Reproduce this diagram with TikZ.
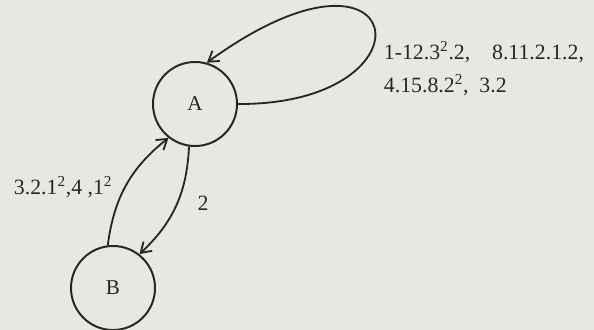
\documentclass[tikz,border=0pt]{standalone}
\usepackage{fontspec}
\setmainfont{Liberation Serif}
\usetikzlibrary{arrows.meta}
\definecolor{paper}{RGB}{233,231,227}
\definecolor{ink}{RGB}{40,38,36}

\begin{document}
\begin{tikzpicture}
[x=0.025cm,y=-0.025cm,line width=1.3pt,draw=ink,
 every node/.style={text=ink},
 state/.style={circle,draw=ink,line width=1.4pt,minimum size=2.1cm,inner sep=0pt,font=\fontsize{15}{18}\selectfont},
 lbl/.style={font=\fontsize{15.5}{19}\selectfont,inner sep=0pt},
 arr/.style={-{Straight Barb[length=7pt,width=9pt]},ink}]
\fill[paper] (0,0) rectangle (594,330);
\useasboundingbox (0,0) rectangle (594,330);
\node[state] (A) at (195,104) {A};
\node[state] (B) at (113,288) {B};
\draw[arr] (A.east) .. controls (440,105) and (410,-85) .. (A.74);
\draw[arr] (B.97) to[bend left=22] (A.232);
\draw[arr] (A.262) to[bend left=22] (B.52);
\node[lbl,anchor=west] (l1) at (383,52) {1-12.3\textsuperscript{2}.2,\quad 8.11.2.1.2,};
\node[lbl,anchor=west] (l2) at (383,85) {4.15.8.2\textsuperscript{2},\enspace 3.2};
\node[lbl,anchor=west] (l3) at (13,187) {3.2.1\textsuperscript{2},4 ,1\textsuperscript{2}};
\node[lbl] (l4) at (203,203) {2};
\end{tikzpicture}
\end{document}
